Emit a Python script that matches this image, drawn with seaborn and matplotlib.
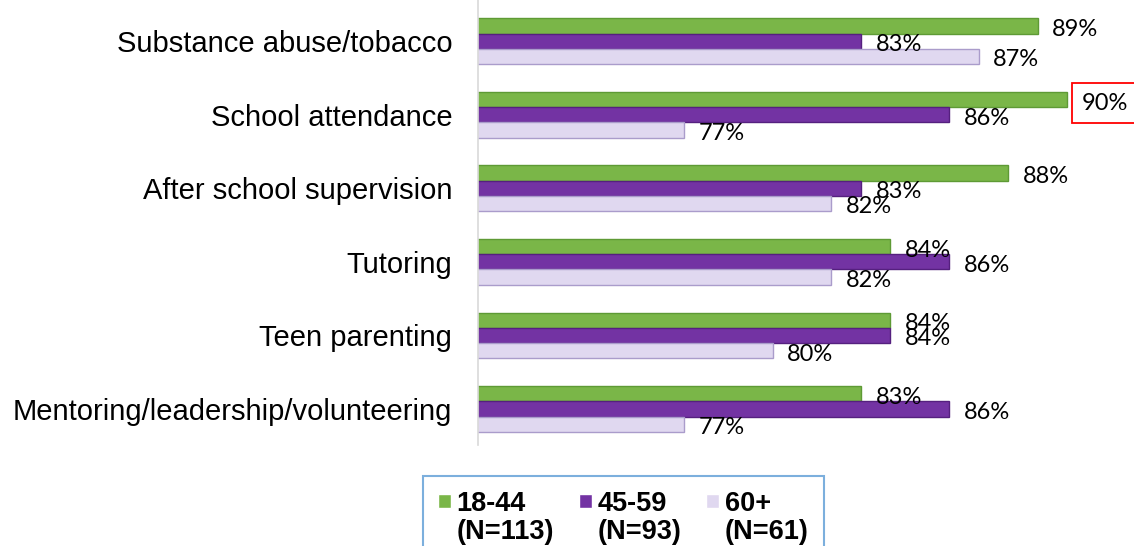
import seaborn as sns
import matplotlib.pyplot as plt
import pandas as pd
from matplotlib.legend_handler import HandlerPatch
from matplotlib.patches import Rectangle

categories = ['Substance abuse/tobacco', 'School attendance', 'After school supervision',
              'Tutoring', 'Teen parenting', 'Mentoring/leadership/volunteering']
groups = ['18-44\n(N=113)', '45-59\n(N=93)', '60+\n(N=61)']
age_18_44 = [89, 90, 88, 84, 84, 83]
age_45_59 = [83, 86, 83, 86, 84, 86]
age_60_plus = [87, 77, 82, 82, 80, 77]

df = pd.DataFrame({
    'category': categories * 3,
    'group': [g for g in groups for _ in categories],
    'pct': age_18_44 + age_45_59 + age_60_plus,
})


# small square legend marker sitting next to the first label line
class TopSquare(HandlerPatch):
    def create_artists(self, legend, orig_handle, xdescent, ydescent,
                       width, height, fontsize, trans):
        size = 0.5 * fontsize
        p = Rectangle((-xdescent, -ydescent + height - size - 0.12 * fontsize), size, size)
        self.update_prop(p, orig_handle, legend)
        p.set_transform(trans)
        return [p]


sns.set_theme(style='white')
plt.rcParams['font.family'] = ['Liberation Sans', 'DejaVu Sans']

fig = plt.figure(figsize=(11.34, 5.46), dpi=100)
ax = fig.add_axes([478 / 1134, 101 / 546, 1 - 478 / 1134, 445 / 546])

palette = ['#7ab648', '#7333a3', '#e0d8f0']
edges = ['#5e9a35', '#55207f', '#aa9ccb']
sns.barplot(data=df, y='category', x='pct', hue='group', orient='h',
            palette=palette, saturation=1, width=0.62, ax=ax)

for cont, ec in zip(ax.containers, edges):
    for bar in cont:
        bar.set_edgecolor(ec)
        bar.set_linewidth(1)

# value labels
for cont in ax.containers:
    for bar in cont:
        v = bar.get_width()
        kw = {}
        if v == 90:
            kw['bbox'] = dict(boxstyle='square,pad=0.4', fc='white', ec='red', lw=1.3)
        ax.annotate(f'{v:.0f}%', (v, bar.get_y() + bar.get_height() / 2),
                    xytext=(10.5, -2.5), textcoords='offset points',
                    va='center', ha='left', fontsize=17, family='Lato',
                    color='black', **kw)

ax.set_xlim(70, 92.27)
ax.set_ylim(5.49, -0.56)
ax.set_xlabel('')
ax.set_ylabel('')
ax.set_xticks([])
ax.tick_params(axis='y', length=0, pad=18.5, labelsize=21, labelcolor='black')
for s in ['top', 'right', 'bottom']:
    ax.spines[s].set_visible(False)
ax.spines['left'].set_color('#d9d9d9')
ax.spines['left'].set_linewidth(1.2)

handles, labels = ax.get_legend_handles_labels()
ax.get_legend().remove()
leg = fig.legend(handles, labels, loc='upper left',
                 bbox_to_anchor=(422.5 / 1134, 1 - 476 / 546), ncol=3,
                 prop={'weight': 'bold', 'size': 19.5}, labelcolor='black',
                 frameon=True, fancybox=False, edgecolor='#5b9bd5',
                 handlelength=0.5, handleheight=1.0, handletextpad=0.2,
                 columnspacing=0.9, borderpad=0.56, borderaxespad=0,
                 handler_map={h: TopSquare() for h in handles})
leg.get_frame().set_linewidth(1.5)
for t in leg.get_texts():
    t.set_linespacing(1.1)
for col in leg._legend_handle_box.get_children():
    for item in col.get_children():
        item.align = 'top'

fig.savefig('out.png', dpi=100)
